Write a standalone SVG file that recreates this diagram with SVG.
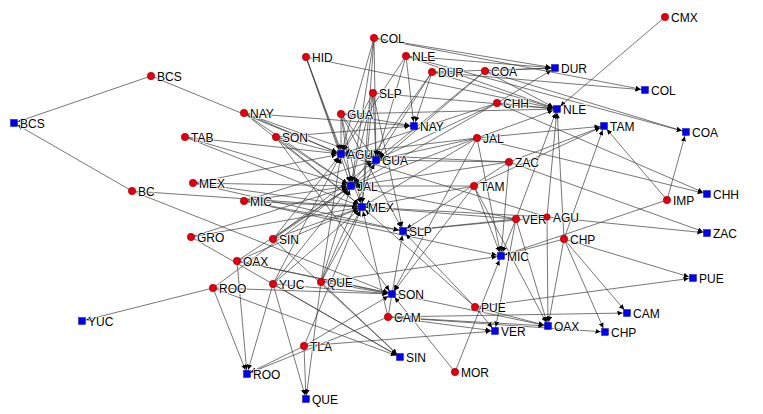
<svg xmlns="http://www.w3.org/2000/svg" width="763" height="414" viewBox="0 0 763 414">
<style>
.e line{stroke:#3c3c3c;stroke-width:0.7;fill:none;marker-end:url(#ah)}
.s{fill:#e00010;stroke:#990000;stroke-width:0.6}
.t{fill:#0000ee;stroke:#000088;stroke-width:0.4}
text{font-family:"Liberation Sans",Arial,sans-serif;font-size:12px;fill:#000;stroke:#fff;stroke-width:1.6;stroke-linejoin:round;paint-order:stroke}
</style>
<defs>
<marker id="ah" viewBox="0 0 10 5" refX="9.5" refY="2.5" markerWidth="10" markerHeight="5" markerUnits="userSpaceOnUse" orient="auto">
<path d="M0,0 L5,2.5 L0,5 z" fill="#000"/>
</marker>
</defs>
<rect width="763" height="414" fill="#fff"/>
<g class="e" id="connectors">
<line x1="151" y1="76" x2="14" y2="123"/>
<line x1="132" y1="191" x2="14" y2="123"/>
<line x1="151" y1="76" x2="341" y2="154"/>
<line x1="132" y1="191" x2="392" y2="294"/>
<line x1="132" y1="191" x2="362" y2="207"/>
<line x1="244" y1="113" x2="414" y2="126"/>
<line x1="244" y1="113" x2="341" y2="154"/>
<line x1="244" y1="113" x2="351" y2="186"/>
<line x1="244" y1="113" x2="362" y2="207"/>
<line x1="244" y1="113" x2="376" y2="160"/>
<line x1="185" y1="137" x2="341" y2="154"/>
<line x1="185" y1="137" x2="351" y2="186"/>
<line x1="185" y1="137" x2="362" y2="207"/>
<line x1="276" y1="137" x2="392" y2="294"/>
<line x1="276" y1="137" x2="341" y2="154"/>
<line x1="276" y1="137" x2="351" y2="186"/>
<line x1="276" y1="137" x2="362" y2="207"/>
<line x1="276" y1="137" x2="414" y2="126"/>
<line x1="193" y1="183" x2="362" y2="207"/>
<line x1="193" y1="183" x2="351" y2="186"/>
<line x1="193" y1="183" x2="341" y2="154"/>
<line x1="193" y1="183" x2="403" y2="231"/>
<line x1="244" y1="201" x2="501" y2="256"/>
<line x1="244" y1="201" x2="351" y2="186"/>
<line x1="244" y1="201" x2="362" y2="207"/>
<line x1="244" y1="201" x2="403" y2="231"/>
<line x1="244" y1="201" x2="376" y2="160"/>
<line x1="191" y1="237" x2="351" y2="186"/>
<line x1="191" y1="237" x2="400" y2="357"/>
<line x1="191" y1="237" x2="362" y2="207"/>
<line x1="273" y1="239" x2="400" y2="357"/>
<line x1="273" y1="239" x2="351" y2="186"/>
<line x1="273" y1="239" x2="341" y2="154"/>
<line x1="273" y1="239" x2="376" y2="160"/>
<line x1="273" y1="239" x2="362" y2="207"/>
<line x1="237" y1="261" x2="548" y2="326"/>
<line x1="237" y1="261" x2="362" y2="207"/>
<line x1="237" y1="261" x2="351" y2="186"/>
<line x1="237" y1="261" x2="247" y2="374"/>
<line x1="237" y1="261" x2="392" y2="294"/>
<line x1="213" y1="288" x2="247" y2="374"/>
<line x1="213" y1="288" x2="82" y2="321"/>
<line x1="213" y1="288" x2="400" y2="357"/>
<line x1="213" y1="288" x2="392" y2="294"/>
<line x1="213" y1="288" x2="351" y2="186"/>
<line x1="273" y1="284" x2="247" y2="374"/>
<line x1="273" y1="284" x2="306" y2="399"/>
<line x1="273" y1="284" x2="400" y2="357"/>
<line x1="273" y1="284" x2="392" y2="294"/>
<line x1="273" y1="284" x2="351" y2="186"/>
<line x1="273" y1="284" x2="362" y2="207"/>
<line x1="273" y1="284" x2="341" y2="154"/>
<line x1="321" y1="282" x2="306" y2="399"/>
<line x1="321" y1="282" x2="392" y2="294"/>
<line x1="321" y1="282" x2="362" y2="207"/>
<line x1="321" y1="282" x2="351" y2="186"/>
<line x1="321" y1="282" x2="400" y2="357"/>
<line x1="321" y1="282" x2="376" y2="160"/>
<line x1="321" y1="282" x2="341" y2="154"/>
<line x1="321" y1="282" x2="501" y2="256"/>
<line x1="388" y1="317" x2="627" y2="313"/>
<line x1="388" y1="317" x2="495" y2="331"/>
<line x1="388" y1="317" x2="548" y2="326"/>
<line x1="388" y1="317" x2="362" y2="207"/>
<line x1="388" y1="317" x2="403" y2="231"/>
<line x1="388" y1="317" x2="247" y2="374"/>
<line x1="388" y1="317" x2="605" y2="332"/>
<line x1="304" y1="346" x2="495" y2="331"/>
<line x1="304" y1="346" x2="306" y2="399"/>
<line x1="304" y1="346" x2="247" y2="374"/>
<line x1="304" y1="346" x2="392" y2="294"/>
<line x1="304" y1="346" x2="362" y2="207"/>
<line x1="475" y1="307" x2="693" y2="278"/>
<line x1="475" y1="307" x2="403" y2="231"/>
<line x1="475" y1="307" x2="362" y2="207"/>
<line x1="475" y1="307" x2="495" y2="331"/>
<line x1="475" y1="307" x2="548" y2="326"/>
<line x1="455" y1="372" x2="501" y2="256"/>
<line x1="455" y1="372" x2="392" y2="294"/>
<line x1="474" y1="186" x2="604" y2="126"/>
<line x1="474" y1="186" x2="501" y2="256"/>
<line x1="474" y1="186" x2="392" y2="294"/>
<line x1="474" y1="186" x2="362" y2="207"/>
<line x1="474" y1="186" x2="351" y2="186"/>
<line x1="474" y1="186" x2="548" y2="326"/>
<line x1="509" y1="162" x2="707" y2="233"/>
<line x1="509" y1="162" x2="501" y2="256"/>
<line x1="509" y1="162" x2="351" y2="186"/>
<line x1="509" y1="162" x2="376" y2="160"/>
<line x1="509" y1="162" x2="604" y2="126"/>
<line x1="509" y1="162" x2="341" y2="154"/>
<line x1="509" y1="162" x2="403" y2="231"/>
<line x1="477" y1="138" x2="351" y2="186"/>
<line x1="477" y1="138" x2="341" y2="154"/>
<line x1="477" y1="138" x2="376" y2="160"/>
<line x1="477" y1="138" x2="557" y2="109"/>
<line x1="477" y1="138" x2="362" y2="207"/>
<line x1="477" y1="138" x2="501" y2="256"/>
<line x1="477" y1="138" x2="392" y2="294"/>
<line x1="477" y1="138" x2="604" y2="126"/>
<line x1="477" y1="138" x2="707" y2="194"/>
<line x1="497" y1="103" x2="707" y2="194"/>
<line x1="497" y1="103" x2="557" y2="109"/>
<line x1="497" y1="103" x2="555" y2="68"/>
<line x1="497" y1="103" x2="341" y2="154"/>
<line x1="497" y1="103" x2="351" y2="186"/>
<line x1="497" y1="103" x2="376" y2="160"/>
<line x1="485" y1="71" x2="686" y2="132"/>
<line x1="485" y1="71" x2="555" y2="68"/>
<line x1="485" y1="71" x2="557" y2="109"/>
<line x1="485" y1="71" x2="376" y2="160"/>
<line x1="485" y1="71" x2="351" y2="186"/>
<line x1="432" y1="72" x2="555" y2="68"/>
<line x1="432" y1="72" x2="557" y2="109"/>
<line x1="432" y1="72" x2="376" y2="160"/>
<line x1="432" y1="72" x2="351" y2="186"/>
<line x1="432" y1="72" x2="414" y2="126"/>
<line x1="432" y1="72" x2="645" y2="90"/>
<line x1="406" y1="56" x2="557" y2="109"/>
<line x1="406" y1="56" x2="555" y2="68"/>
<line x1="406" y1="56" x2="341" y2="154"/>
<line x1="406" y1="56" x2="376" y2="160"/>
<line x1="406" y1="56" x2="414" y2="126"/>
<line x1="406" y1="56" x2="686" y2="132"/>
<line x1="374" y1="38" x2="645" y2="90"/>
<line x1="374" y1="38" x2="341" y2="154"/>
<line x1="374" y1="38" x2="376" y2="160"/>
<line x1="374" y1="38" x2="351" y2="186"/>
<line x1="374" y1="38" x2="362" y2="207"/>
<line x1="374" y1="38" x2="555" y2="68"/>
<line x1="306" y1="57" x2="341" y2="154"/>
<line x1="306" y1="57" x2="351" y2="186"/>
<line x1="306" y1="57" x2="557" y2="109"/>
<line x1="306" y1="57" x2="362" y2="207"/>
<line x1="373" y1="93" x2="403" y2="231"/>
<line x1="373" y1="93" x2="341" y2="154"/>
<line x1="373" y1="93" x2="351" y2="186"/>
<line x1="373" y1="93" x2="362" y2="207"/>
<line x1="373" y1="93" x2="557" y2="109"/>
<line x1="373" y1="93" x2="376" y2="160"/>
<line x1="341" y1="114" x2="376" y2="160"/>
<line x1="341" y1="114" x2="341" y2="154"/>
<line x1="341" y1="114" x2="351" y2="186"/>
<line x1="341" y1="114" x2="362" y2="207"/>
<line x1="341" y1="114" x2="414" y2="126"/>
<line x1="341" y1="114" x2="403" y2="231"/>
<line x1="341" y1="114" x2="557" y2="109"/>
<line x1="516" y1="219" x2="495" y2="331"/>
<line x1="516" y1="219" x2="501" y2="256"/>
<line x1="516" y1="219" x2="548" y2="326"/>
<line x1="516" y1="219" x2="351" y2="186"/>
<line x1="516" y1="219" x2="362" y2="207"/>
<line x1="516" y1="219" x2="403" y2="231"/>
<line x1="516" y1="219" x2="557" y2="109"/>
<line x1="547" y1="217" x2="341" y2="154"/>
<line x1="547" y1="217" x2="707" y2="233"/>
<line x1="547" y1="217" x2="548" y2="326"/>
<line x1="547" y1="217" x2="557" y2="109"/>
<line x1="547" y1="217" x2="362" y2="207"/>
<line x1="547" y1="217" x2="403" y2="231"/>
<line x1="564" y1="239" x2="605" y2="332"/>
<line x1="564" y1="239" x2="627" y2="313"/>
<line x1="564" y1="239" x2="693" y2="278"/>
<line x1="564" y1="239" x2="501" y2="256"/>
<line x1="564" y1="239" x2="548" y2="326"/>
<line x1="564" y1="239" x2="557" y2="109"/>
<line x1="564" y1="239" x2="604" y2="126"/>
<line x1="667" y1="200" x2="501" y2="256"/>
<line x1="667" y1="200" x2="686" y2="132"/>
<line x1="667" y1="200" x2="604" y2="126"/>
<line x1="665" y1="17" x2="557" y2="109"/>
</g>
<g id="src-BCS"><circle class="s" cx="151" cy="76" r="3.7"/><text x="157" y="80.5">BCS</text></g>
<g id="src-NAY"><circle class="s" cx="244" cy="113" r="3.7"/><text x="250" y="117.5">NAY</text></g>
<g id="src-TAB"><circle class="s" cx="185" cy="137" r="3.7"/><text x="191" y="141.5">TAB</text></g>
<g id="src-SON"><circle class="s" cx="276" cy="137" r="3.7"/><text x="282" y="141.5">SON</text></g>
<g id="src-MEX"><circle class="s" cx="193" cy="183" r="3.7"/><text x="199" y="187.5">MEX</text></g>
<g id="src-BC"><circle class="s" cx="132" cy="191" r="3.7"/><text x="138" y="195.5">BC</text></g>
<g id="src-MIC"><circle class="s" cx="244" cy="201" r="3.7"/><text x="250" y="205.5">MIC</text></g>
<g id="src-GRO"><circle class="s" cx="191" cy="237" r="3.7"/><text x="197" y="241.5">GRO</text></g>
<g id="src-SIN"><circle class="s" cx="273" cy="239" r="3.7"/><text x="279" y="243.5">SIN</text></g>
<g id="src-OAX"><circle class="s" cx="237" cy="261" r="3.7"/><text x="243" y="265.5">OAX</text></g>
<g id="src-ROO"><circle class="s" cx="213" cy="288" r="3.7"/><text x="219" y="292.5">ROO</text></g>
<g id="src-YUC"><circle class="s" cx="273" cy="284" r="3.7"/><text x="279" y="288.5">YUC</text></g>
<g id="src-QUE"><circle class="s" cx="321" cy="282" r="3.7"/><text x="327" y="286.5">QUE</text></g>
<g id="src-CAM"><circle class="s" cx="388" cy="317" r="3.7"/><text x="394" y="321.5">CAM</text></g>
<g id="src-TLA"><circle class="s" cx="304" cy="346" r="3.7"/><text x="310" y="350.5">TLA</text></g>
<g id="src-PUE"><circle class="s" cx="475" cy="307" r="3.7"/><text x="481" y="311.5">PUE</text></g>
<g id="src-MOR"><circle class="s" cx="455" cy="372" r="3.7"/><text x="461" y="376.5">MOR</text></g>
<g id="src-TAM"><circle class="s" cx="474" cy="186" r="3.7"/><text x="480" y="190.5">TAM</text></g>
<g id="src-ZAC"><circle class="s" cx="509" cy="162" r="3.7"/><text x="515" y="166.5">ZAC</text></g>
<g id="src-JAL"><circle class="s" cx="477" cy="138" r="3.7"/><text x="483" y="142.5">JAL</text></g>
<g id="src-CHH"><circle class="s" cx="497" cy="103" r="3.7"/><text x="503" y="107.5">CHH</text></g>
<g id="src-COA"><circle class="s" cx="485" cy="71" r="3.7"/><text x="491" y="75.5">COA</text></g>
<g id="src-DUR"><circle class="s" cx="432" cy="72" r="3.7"/><text x="438" y="76.5">DUR</text></g>
<g id="src-NLE"><circle class="s" cx="406" cy="56" r="3.7"/><text x="412" y="60.5">NLE</text></g>
<g id="src-COL"><circle class="s" cx="374" cy="38" r="3.7"/><text x="380" y="42.5">COL</text></g>
<g id="src-HID"><circle class="s" cx="306" cy="57" r="3.7"/><text x="312" y="61.5">HID</text></g>
<g id="src-SLP"><circle class="s" cx="373" cy="93" r="3.7"/><text x="379" y="97.5">SLP</text></g>
<g id="src-GUA"><circle class="s" cx="341" cy="114" r="3.7"/><text x="347" y="118.5">GUA</text></g>
<g id="src-VER"><circle class="s" cx="516" cy="219" r="3.7"/><text x="522" y="223.5">VER</text></g>
<g id="src-AGU"><circle class="s" cx="547" cy="217" r="3.2"/><text x="553" y="221.5">AGU</text></g>
<g id="src-CHP"><circle class="s" cx="564" cy="239" r="3.7"/><text x="570" y="243.5">CHP</text></g>
<g id="src-IMP"><circle class="s" cx="667" cy="200" r="3.7"/><text x="673" y="204.5">IMP</text></g>
<g id="src-CMX"><circle class="s" cx="665" cy="17" r="3.7"/><text x="671" y="21.5">CMX</text></g>
<g id="tgt-BCS"><rect class="t" x="10.5" y="119.5" width="7" height="7"/><text x="20" y="127.5">BCS</text></g>
<g id="tgt-YUC"><rect class="t" x="78.5" y="317.5" width="7" height="7"/><text x="88" y="325.5">YUC</text></g>
<g id="tgt-ROO"><rect class="t" x="243.5" y="370.5" width="7" height="7"/><text x="253" y="378.5">ROO</text></g>
<g id="tgt-QUE"><rect class="t" x="302.5" y="395.5" width="7" height="7"/><text x="312" y="403.5">QUE</text></g>
<g id="tgt-SIN"><rect class="t" x="396.5" y="353.5" width="7" height="7"/><text x="406" y="361.5">SIN</text></g>
<g id="tgt-SON"><rect class="t" x="388.5" y="290.5" width="7" height="7"/><text x="398" y="298.5">SON</text></g>
<g id="tgt-SLP"><rect class="t" x="399.5" y="227.5" width="7" height="7"/><text x="409" y="235.5">SLP</text></g>
<g id="tgt-MEX"><rect class="t" x="358.5" y="203.5" width="7" height="7"/><text x="368" y="211.5">MEX</text></g>
<g id="tgt-JAL"><rect class="t" x="347.5" y="182.5" width="7" height="7"/><text x="357" y="190.5">JAL</text></g>
<g id="tgt-AGU"><rect class="t" x="337.5" y="150.5" width="7" height="7"/><text x="347" y="158.5">AGU</text></g>
<g id="tgt-GUA"><rect class="t" x="372.5" y="156.5" width="7" height="7"/><text x="382" y="164.5">GUA</text></g>
<g id="tgt-NAY"><rect class="t" x="410.5" y="122.5" width="7" height="7"/><text x="420" y="130.5">NAY</text></g>
<g id="tgt-MIC"><rect class="t" x="497.5" y="252.5" width="7" height="7"/><text x="507" y="260.5">MIC</text></g>
<g id="tgt-VER"><rect class="t" x="491.5" y="327.5" width="7" height="7"/><text x="501" y="335.5">VER</text></g>
<g id="tgt-OAX"><rect class="t" x="544.5" y="322.5" width="7" height="7"/><text x="554" y="330.5">OAX</text></g>
<g id="tgt-CHP"><rect class="t" x="601.5" y="328.5" width="7" height="7"/><text x="611" y="336.5">CHP</text></g>
<g id="tgt-CAM"><rect class="t" x="623.5" y="309.5" width="7" height="7"/><text x="633" y="317.5">CAM</text></g>
<g id="tgt-PUE"><rect class="t" x="689.5" y="274.5" width="7" height="7"/><text x="699" y="282.5">PUE</text></g>
<g id="tgt-ZAC"><rect class="t" x="703.5" y="229.5" width="7" height="7"/><text x="713" y="237.5">ZAC</text></g>
<g id="tgt-CHH"><rect class="t" x="703.5" y="190.5" width="7" height="7"/><text x="713" y="198.5">CHH</text></g>
<g id="tgt-COA"><rect class="t" x="682.5" y="128.5" width="7" height="7"/><text x="692" y="136.5">COA</text></g>
<g id="tgt-TAM"><rect class="t" x="600.5" y="122.5" width="7" height="7"/><text x="610" y="130.5">TAM</text></g>
<g id="tgt-COL"><rect class="t" x="641.5" y="86.5" width="7" height="7"/><text x="651" y="94.5">COL</text></g>
<g id="tgt-DUR"><rect class="t" x="551.5" y="64.5" width="7" height="7"/><text x="561" y="72.5">DUR</text></g>
<g id="tgt-NLE"><rect class="t" x="553.5" y="105.5" width="7" height="7"/><text x="563" y="113.5">NLE</text></g>
</svg>
